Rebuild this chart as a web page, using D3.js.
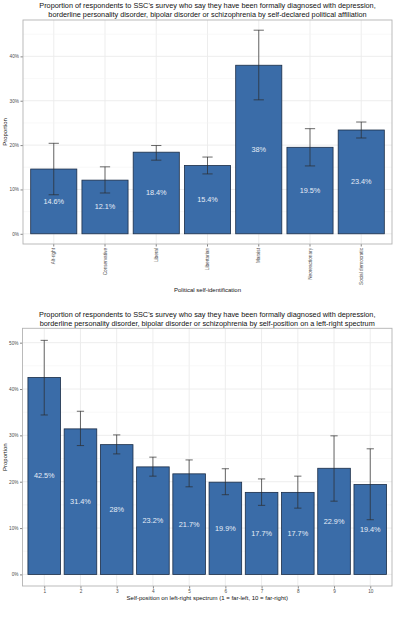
<!DOCTYPE html>
<html><head><meta charset="utf-8">
<script src="https://cdn.jsdelivr.net/npm/d3@7"></script>
<style>
html,body{margin:0;padding:0;background:#fff;}
svg{display:block;font-family:"Liberation Sans",Arial,sans-serif;}
</style></head>
<body>
<svg id="c" width="400" height="636"></svg>
<script>
// ---- Chart 1 data ----
const cats1 = ["Alt-right","Conservative","Liberal","Libertarian","Marxist","Neoreactionary","Social democratic"];
const vals1 = [14.6, 12.1, 18.4, 15.4, 38.0, 19.5, 23.4];
const lo1   = [8.8, 9.2, 16.6, 13.5, 30.2, 15.3, 21.6];
const hi1   = [20.4, 15.1, 19.9, 17.3, 45.9, 23.7, 25.2];
const yTicks1 = [0, 10, 20, 30, 40];

// ---- Chart 2 data ----
const cats2 = [1,2,3,4,5,6,7,8,9,10];
const vals2 = [42.5, 31.4, 28.0, 23.2, 21.7, 19.9, 17.7, 17.7, 22.9, 19.4];
const lo2   = [34.4, 27.8, 26.0, 21.2, 18.9, 17.2, 14.9, 14.3, 15.8, 11.8];
const hi2   = [50.5, 35.2, 30.1, 25.3, 24.7, 22.8, 20.6, 21.2, 29.9, 27.1];
const yTicks2 = [0, 10, 20, 30, 40, 50];

const title1 = ["Proportion of respondents to SSC's survey who say they have been formally diagnosed with depression,",
                "borderline personality disorder, bipolar disorder or schizophrenia by self-declared political affiliation"];
const title2 = ["Proportion of respondents to SSC's survey who say they have been formally diagnosed with depression,",
                "borderline personality disorder, bipolar disorder or schizophrenia by self-position on a left-right spectrum"];

const svg = d3.select("#c");
const FILL = "#3a6ca8", STROKE = "#1b2d47", EB = "#2b2b2b";
const fmt = v => (+v.toFixed(1)) + "%";

function panel(g, x0, x1, y0, y1) {
  return {x0, x1, y0, y1};
}

function drawChart(opt) {
  const {top, bottom, left, right, yDomain, yTicks, titleLines, titleY, xTitle, xTitleY, yTitle} = opt;
  const g = svg.append("g");
  const y = d3.scaleLinear().domain(yDomain).range([bottom, top]);

  // background
  g.append("rect").attr("x", left).attr("y", top).attr("width", right-left).attr("height", bottom-top).attr("fill", "#fff");

  // minor grid
  const minor = [];
  for (let i = 0; i < yTicks.length - 1; i++) minor.push((yTicks[i]+yTicks[i+1])/2);
  const lastMinor = yTicks[yTicks.length-1] + (yTicks[1]-yTicks[0])/2;
  if (lastMinor < yDomain[1]) minor.push(lastMinor);
  g.selectAll(".mn").data(minor).join("line")
    .attr("x1", left).attr("x2", right).attr("y1", d=>y(d)).attr("y2", d=>y(d))
    .attr("stroke", "#f4f4f4").attr("stroke-width", 0.6);
  g.selectAll(".mj").data(yTicks).join("line")
    .attr("x1", left).attr("x2", right).attr("y1", d=>y(d)).attr("y2", d=>y(d))
    .attr("stroke", "#ebebeb").attr("stroke-width", 0.9);

  // y axis
  const ya = g.append("g").attr("transform", `translate(${left},0)`)
    .call(d3.axisLeft(y).tickValues(yTicks).tickFormat(d => d + "%").tickSize(2.5).tickPadding(1.5));
  ya.select(".domain").remove();
  ya.selectAll("line").attr("stroke", "#333").attr("stroke-width", 0.6);
  ya.selectAll("text").attr("font-size", 4.7).attr("fill", "#4d4d4d").attr("font-family", "Liberation Sans, Arial, sans-serif");

  // title
  g.selectAll(".tt").data(titleLines).join("text")
    .attr("x", (left+right)/2).attr("y", (d,i)=> titleY + i*9)
    .attr("text-anchor", "middle").attr("font-size", 7.3).attr("fill", "#111").text(d=>d);

  // axis titles
  g.append("text").attr("x", (left+right)/2).attr("y", xTitleY).attr("text-anchor","middle")
    .attr("font-size", 6).attr("fill", "#111").text(xTitle);
  g.append("text").attr("transform", `translate(7,${(top+bottom)/2}) rotate(-90)`).attr("text-anchor","middle")
    .attr("font-size", 6).attr("fill", "#111").text(yTitle);

  return {g, y};
}

// ===== Chart 1 =====
{
  const left = 23, right = 392, top = 20, bottom = 244;
  const {g, y} = drawChart({top, bottom, left, right, yDomain: [-2.3, 48.2], yTicks: yTicks1,
    titleLines: title1, titleY: 7.8, xTitle: "Political self-identification", xTitleY: 292, yTitle: "Proportion"});
  const x = d3.scaleBand().domain(cats1).range([left, right]).paddingInner(0.1).paddingOuter(0.15);
  // vertical grid
  g.insert("g", ":nth-child(4)").selectAll("line").data(cats1).join("line")
    .attr("x1", d=>x(d)+x.bandwidth()/2).attr("x2", d=>x(d)+x.bandwidth()/2)
    .attr("y1", top).attr("y2", bottom).attr("stroke", "#ebebeb").attr("stroke-width", 0.9);
  const data = cats1.map((c,i)=>({c, v: vals1[i], lo: lo1[i], hi: hi1[i]}));
  g.selectAll(".bar").data(data).join("rect")
    .attr("x", d=>x(d.c)).attr("width", x.bandwidth())
    .attr("y", d=>y(d.v)).attr("height", d=>y(0)-y(d.v))
    .attr("fill", FILL).attr("stroke", STROKE).attr("stroke-width", 0.8);
  const ew = x.step()*0.2;
  const eb = g.selectAll(".eb").data(data).join("g").attr("stroke", EB).attr("stroke-width", 0.7);
  eb.append("line").attr("x1", d=>x(d.c)+x.bandwidth()/2).attr("x2", d=>x(d.c)+x.bandwidth()/2)
    .attr("y1", d=>y(d.lo)).attr("y2", d=>y(d.hi));
  eb.append("line").attr("x1", d=>x(d.c)+x.bandwidth()/2-ew/2).attr("x2", d=>x(d.c)+x.bandwidth()/2+ew/2)
    .attr("y1", d=>y(d.lo)).attr("y2", d=>y(d.lo));
  eb.append("line").attr("x1", d=>x(d.c)+x.bandwidth()/2-ew/2).attr("x2", d=>x(d.c)+x.bandwidth()/2+ew/2)
    .attr("y1", d=>y(d.hi)).attr("y2", d=>y(d.hi));
  g.selectAll(".lbl").data(data).join("text")
    .attr("x", d=>x(d.c)+x.bandwidth()/2).attr("y", d=>y(d.v/2)+2.5)
    .attr("text-anchor","middle").attr("font-size", 7.3).attr("fill", "#e6edf7").text(d=>fmt(d.v));
  // x axis
  const xa = g.append("g").attr("transform", `translate(0,${bottom})`)
    .call(d3.axisBottom(x).tickSize(2.5).tickPadding(1.5));
  xa.select(".domain").remove();
  xa.selectAll("line").attr("stroke", "#333").attr("stroke-width", 0.6);
  xa.selectAll("text").attr("font-size", 4.7).attr("fill", "#4d4d4d")
    .attr("transform", "rotate(-90)").attr("text-anchor", "end").attr("dy", "0.35em")
    .attr("x", -4).attr("y", 0);
  g.append("rect").attr("x", left).attr("y", top).attr("width", right-left).attr("height", bottom-top)
    .attr("fill", "none").attr("stroke", "#b3b3b3").attr("stroke-width", 0.9);
}

// ===== Chart 2 =====
{
  const left = 22.5, right = 392, top = 328.3, bottom = 586;
  const {g, y} = drawChart({top, bottom, left, right, yDomain: [-2.5, 53.1], yTicks: yTicks2,
    titleLines: title2, titleY: 316.8, xTitle: "Self-position on left-right spectrum (1 = far-left, 10 = far-right)", xTitleY: 600, yTitle: "Proportion"});
  const x = d3.scaleLinear().domain([0.4, 10.6]).range([left, right]);
  g.insert("g", ":nth-child(4)").selectAll("line").data(cats2).join("line")
    .attr("x1", d=>x(d)).attr("x2", d=>x(d))
    .attr("y1", top).attr("y2", bottom).attr("stroke", "#ebebeb").attr("stroke-width", 0.9);
  const data = cats2.map((c,i)=>({c, v: vals2[i], lo: lo2[i], hi: hi2[i]}));
  g.selectAll(".bar").data(data).join("rect")
    .attr("x", d=>x(d.c-0.45)).attr("width", d=>x(d.c+0.45)-x(d.c-0.45))
    .attr("y", d=>y(d.v)).attr("height", d=>y(0)-y(d.v))
    .attr("fill", FILL).attr("stroke", STROKE).attr("stroke-width", 0.8);
  const eb = g.selectAll(".eb").data(data).join("g").attr("stroke", EB).attr("stroke-width", 0.7);
  eb.append("line").attr("x1", d=>x(d.c)).attr("x2", d=>x(d.c)).attr("y1", d=>y(d.lo)).attr("y2", d=>y(d.hi));
  eb.append("line").attr("x1", d=>x(d.c-0.1)).attr("x2", d=>x(d.c+0.1)).attr("y1", d=>y(d.lo)).attr("y2", d=>y(d.lo));
  eb.append("line").attr("x1", d=>x(d.c-0.1)).attr("x2", d=>x(d.c+0.1)).attr("y1", d=>y(d.hi)).attr("y2", d=>y(d.hi));
  g.selectAll(".lbl").data(data).join("text")
    .attr("x", d=>x(d.c)).attr("y", d=>y(d.v/2)+2.5)
    .attr("text-anchor","middle").attr("font-size", 7.3).attr("fill", "#e6edf7").text(d=>fmt(d.v));
  const xa = g.append("g").attr("transform", `translate(0,${bottom})`)
    .call(d3.axisBottom(x).tickValues(cats2).tickFormat(d3.format("d")).tickSize(2.5).tickPadding(1.5));
  xa.select(".domain").remove();
  xa.selectAll("line").attr("stroke", "#333").attr("stroke-width", 0.6);
  xa.selectAll("text").attr("font-size", 4.7).attr("fill", "#4d4d4d");
  g.append("rect").attr("x", left).attr("y", top).attr("width", right-left).attr("height", bottom-top)
    .attr("fill", "none").attr("stroke", "#b3b3b3").attr("stroke-width", 0.9);
}
</script>
</body></html>
